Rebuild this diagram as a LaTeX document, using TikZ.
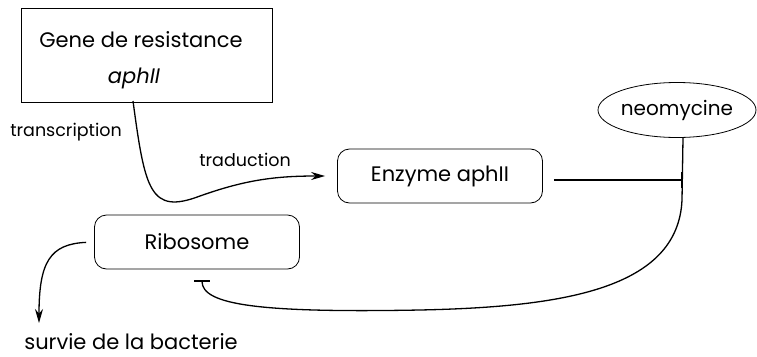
\documentclass[tikz,border=0pt]{standalone}
\usepackage{fontspec}
\setmainfont{Poppins}
\usetikzlibrary{arrows,arrows.meta,shapes,positioning}
\tikzset{
    >=stealth',
    bigtxt/.style={font=\fontsize{21}{25}\selectfont},
    lbl/.style={font=\fontsize{17.5}{21}\selectfont},
    block/.style={draw, rectangle, rounded corners=12pt, line width=0.8pt,
        minimum width=205pt, minimum height=54pt, bigtxt},
    act/.style={-{Stealth[length=14pt,width=8pt]}, line width=1.3pt},
    inh/.style={-{Bar[width=16pt]}, line width=1.3pt},
}

\begin{document}
\begin{tikzpicture}[x=1pt,y=-1pt]
    \useasboundingbox (0,0) rectangle (757,356);

    % gene box
    \node[draw, rectangle, line width=0.8pt, minimum width=251pt, minimum height=94pt] (gene) at (147,55) {};
    \node[bigtxt, anchor=base] (genename) at (141,47) {Gene de resistance};
    \node[bigtxt, anchor=base] (aph) at (134,83) {\itshape aphII};

    \node[block] (enz) at (440,176) {Enzyme aphII};
    \node[block] (ribo) at (197,242) {Ribosome};
    \node[draw, ellipse, line width=0.8pt, inner xsep=-6pt, minimum width=158pt, minimum height=55pt,
        font=\fontsize{20}{24}\selectfont] (neo) at (677,110) {neomycine};
    \node[bigtxt, anchor=base, inner sep=0pt] (survie) at (131,349) {survie de la bacterie};

    \node[lbl] (transc) at (66,132) {transcription};
    \node[lbl] (trad) at (245,160) {traduction};

    \coordinate (gout) at (133,101);
    \coordinate (block) at (682,180);
    \coordinate (tip) at (39,323);

    % transcription / traduction
    \draw[act, shorten >=12pt] (gout) .. controls (145,190) and (150,215) .. (200,196)
        .. controls (245,180) and (275,176) .. (enz.west);
    % enzyme blocks neomycine
    \draw[inh, shorten <=11pt] (enz.east |- block) -- (block);
    % neomycine blocks ribosome
    \draw[inh, shorten >=11pt] ([xshift=6pt]neo.south) -- (682,200)
        .. controls (678,290) and (560,307) .. (420,310)
        .. controls (260,313) and (202,305) .. ([xshift=5pt]ribo.south);
    % survie
    \draw[act, shorten <=8pt] (ribo.west) .. controls (50,244) and (39,262) .. (tip);
\end{tikzpicture}
\end{document}
